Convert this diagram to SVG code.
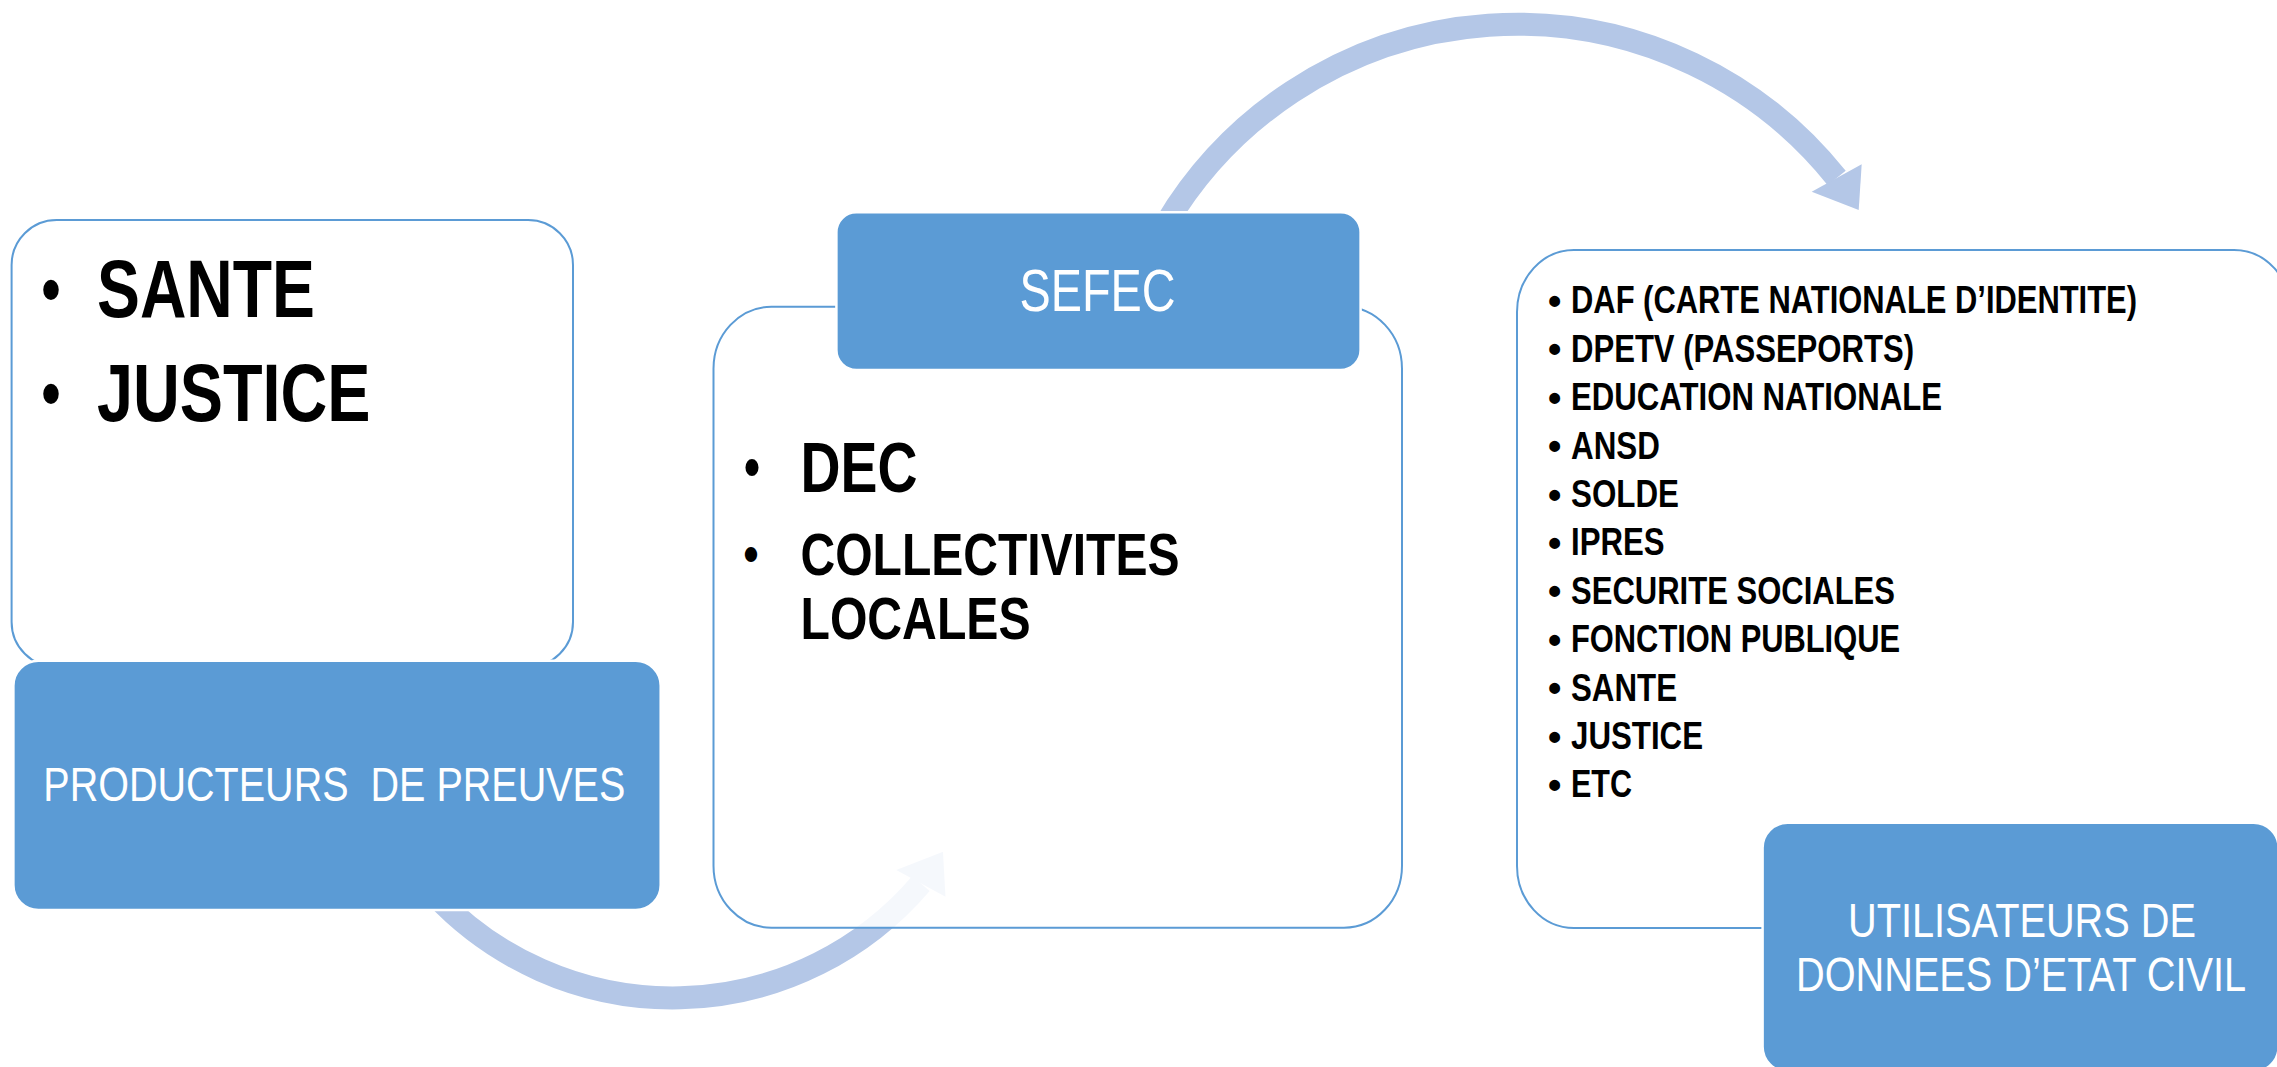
<svg xmlns="http://www.w3.org/2000/svg" width="2277" height="1067" viewBox="0 0 2277 1067">
<style>
.panel{fill:#ffffff;stroke:#5b9bd5;stroke-width:2}
.head{fill:#5b9bd5;stroke:#ffffff;stroke-width:2.5}
.ht{font-family:"Liberation Sans Narrow","Liberation Sans",Arial,sans-serif;fill:#ffffff;font-weight:normal}
.bt{font-family:"Liberation Sans Narrow","Liberation Sans",Arial,sans-serif;fill:#000000;font-weight:bold}
.bu{font-family:"Liberation Sans",Arial,sans-serif;fill:#000000;font-weight:bold}
.arc{fill:none;stroke:#b4c7e7;stroke-width:23}
.ahead{fill:#b4c7e7}
</style>
<rect width="2277" height="1067" fill="#ffffff"/>
<g id="connectors">
  <path class="arc" d="M 434.8 895 A 326.5 326.5 0 0 0 921 883.5"/>
  <polygon class="ahead" points="943,851.7 945.5,896.7 896.2,870"/>
  <path class="arc" d="M 1165.2 225 A 408.9 408.9 0 0 1 1836.7 178"/>
  <polygon class="ahead" points="1861.7,164.3 1858.7,210 1811.7,191.7"/>
</g>
<g id="producteurs">
  <rect class="panel" x="11.6" y="220" width="561.4" height="447" rx="45"/>
  <text class="bu" x="41.5" y="312.5" font-size="70" textLength="19" lengthAdjust="spacingAndGlyphs">•</text>
  <text class="bt" x="97" y="317" font-size="82" textLength="218" lengthAdjust="spacingAndGlyphs">SANTE</text>
  <text class="bu" x="41.5" y="417" font-size="70" textLength="19" lengthAdjust="spacingAndGlyphs">•</text>
  <text class="bt" x="97" y="421" font-size="82" textLength="273.5" lengthAdjust="spacingAndGlyphs">JUSTICE</text>
  <rect class="head" x="13.4" y="660.7" width="647.3" height="249.3" rx="25"/>
  <text class="ht" x="43.3" y="801" font-size="49" textLength="582" lengthAdjust="spacingAndGlyphs" xml:space="preserve">PRODUCTEURS  DE PREUVES</text>
</g>
<g id="sefec">
  <rect class="panel" x="713.5" y="306.7" width="688.5" height="621" rx="58" ry="62" style="fill-opacity:0.87"/>
  <text class="bu" x="744" y="487" font-size="60" textLength="16" lengthAdjust="spacingAndGlyphs">•</text>
  <text class="bt" x="800.5" y="491.7" font-size="71" textLength="117" lengthAdjust="spacingAndGlyphs">DEC</text>
  <text class="bu" x="743.5" y="572" font-size="52" textLength="15" lengthAdjust="spacingAndGlyphs">•</text>
  <text class="bt" x="800.5" y="575" font-size="60" textLength="379" lengthAdjust="spacingAndGlyphs">COLLECTIVITES</text>
  <text class="bt" x="800.5" y="639" font-size="60" textLength="230" lengthAdjust="spacingAndGlyphs">LOCALES</text>
  <rect class="head" x="836.4" y="212.3" width="524.2" height="157.7" rx="20"/>
  <text class="ht" x="1019.6" y="310.7" font-size="59" textLength="156" lengthAdjust="spacingAndGlyphs">SEFEC</text>
</g>
<g id="utilisateurs">
  <rect class="panel" x="1517" y="250" width="774" height="678" rx="57" ry="62"/>
  <g class="bu" font-size="38">
    <text x="1548" y="314">•</text>
    <text x="1548" y="362.4">•</text>
    <text x="1548" y="410.8">•</text>
    <text x="1548" y="459.2">•</text>
    <text x="1548" y="507.6">•</text>
    <text x="1548" y="556">•</text>
    <text x="1548" y="604.4">•</text>
    <text x="1548" y="652.8">•</text>
    <text x="1548" y="701.2">•</text>
    <text x="1548" y="749.6">•</text>
    <text x="1548" y="798">•</text>
  </g>
  <g class="bt" font-size="39.5">
    <text transform="translate(1571,313.3) scale(1,1.28)" x="0" y="0" font-size="31" textLength="566" lengthAdjust="spacingAndGlyphs">DAF (CARTE NATIONALE D’IDENTITE)</text>
    <text x="1571" y="361.7" textLength="343" lengthAdjust="spacingAndGlyphs">DPETV (PASSEPORTS)</text>
    <text x="1571" y="410.1" textLength="371" lengthAdjust="spacingAndGlyphs">EDUCATION NATIONALE</text>
    <text x="1571" y="458.5" textLength="89" lengthAdjust="spacingAndGlyphs">ANSD</text>
    <text x="1571" y="506.9" textLength="108" lengthAdjust="spacingAndGlyphs">SOLDE</text>
    <text x="1571" y="555.3" textLength="93.5" lengthAdjust="spacingAndGlyphs">IPRES</text>
    <text x="1571" y="603.7" textLength="324" lengthAdjust="spacingAndGlyphs">SECURITE SOCIALES</text>
    <text x="1571" y="652.1" textLength="329" lengthAdjust="spacingAndGlyphs">FONCTION PUBLIQUE</text>
    <text x="1571" y="700.5" textLength="106" lengthAdjust="spacingAndGlyphs">SANTE</text>
    <text x="1571" y="748.9" textLength="132" lengthAdjust="spacingAndGlyphs">JUSTICE</text>
    <text x="1571" y="797.3" textLength="61" lengthAdjust="spacingAndGlyphs">ETC</text>
  </g>
  <rect class="head" x="1762.6" y="822.7" width="516" height="249" rx="25"/>
  <text class="ht" x="1848" y="937" font-size="49" textLength="348" lengthAdjust="spacingAndGlyphs">UTILISATEURS DE</text>
  <text class="ht" transform="translate(1796,990.7) scale(1,1.22)" x="0" y="0" font-size="39" textLength="450" lengthAdjust="spacingAndGlyphs">DONNEES D’ETAT CIVIL</text>
</g>
</svg>
